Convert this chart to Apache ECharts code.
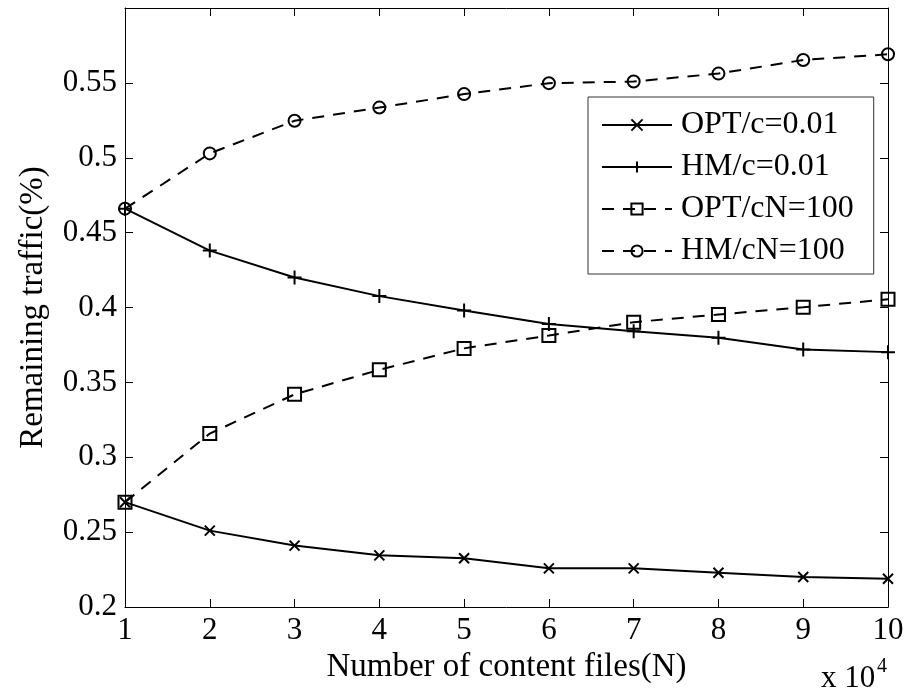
<!DOCTYPE html>
<html>
<head>
<meta charset="utf-8">
<script src="https://cdn.jsdelivr.net/npm/echarts@6/dist/echarts.min.js"></script>
<style>
html,body{margin:0;padding:0;background:#fff;}
#chart{width:907px;height:692px;}
</style>
</head>
<body>
<div id="chart"></div>
<script>
var xValues = [1, 2, 3, 4, 5, 6, 7, 8, 9, 10];
var seriesNames = ['OPT/c=0.01', 'HM/c=0.01', 'OPT/cN=100', 'HM/cN=100'];
var optC = [0.270, 0.251, 0.241, 0.2345, 0.2325, 0.2258, 0.2258, 0.2229, 0.2200, 0.2189];
var hmC = [0.466, 0.438, 0.420, 0.4076, 0.398, 0.389, 0.3842, 0.3798, 0.372, 0.3702];
var optCN = [0.270, 0.3158, 0.342, 0.3584, 0.3727, 0.3813, 0.3902, 0.3953, 0.4002, 0.4055];
var hmCN = [0.466, 0.5029, 0.5247, 0.5335, 0.5425, 0.5498, 0.5509, 0.5562, 0.5653, 0.5691];
var yTickLabels = ['0.2', '0.25', '0.3', '0.35', '0.4', '0.45', '0.5', '0.55'];

var FONT = '"Liberation Serif", "Times New Roman", serif';
var chart = echarts.init(document.getElementById('chart'), null, {renderer: 'canvas'});

function pairs(arr) { return xValues.map(function (x, i) { return [x, arr[i]]; }); }

var crossSym = 'path://M0,0L10,10M10,0L0,10';
var plusSym = 'path://M5,0L5,10M0,5L10,5';

function mkSeries(name, data, symbol, size, dashed) {
  return {
    name: name, type: 'line', data: pairs(data),
    color: '#000',
    symbol: symbol, symbolSize: size, showSymbol: true,
    lineStyle: {color: '#000', width: 2, type: dashed ? [12, 9] : 'solid'},
    itemStyle: {color: 'rgba(0,0,0,0)', borderColor: '#000', borderWidth: 2},
    emphasis: {disabled: true},
    animation: false
  };
}

var axisCommon = {
  axisLine: {show: true, lineStyle: {color: '#000', width: 1}},
  axisTick: {show: true, inside: true, length: 8, lineStyle: {color: '#000', width: 1}},
  splitLine: {show: false}
};

var option = {
  backgroundColor: '#fff',
  animation: false,
  grid: {left: 125, top: 8, right: 19, bottom: 85, containLabel: false},
  legend: {
    orient: 'vertical', left: 588, top: 97,
    data: seriesNames,
    backgroundColor: '#fff', borderColor: '#333', borderWidth: 1,
    padding: [12, 20, 7, 13],
    itemWidth: 70, itemHeight: 14, itemGap: 10,
    textStyle: {fontFamily: FONT, fontSize: 32, color: '#000', padding: [0, 0, 0, 4]},
    selectedMode: false
  },
  xAxis: [
    Object.assign({
      type: 'value', min: 1, max: 10, interval: 1, position: 'bottom',
      name: 'Number of content files(N)', nameLocation: 'middle', nameGap: 37,
      nameTextStyle: {fontFamily: FONT, fontSize: 33, color: '#000'},
      axisLabel: {fontFamily: FONT, fontSize: 31, color: '#000', margin: 8}
    }, axisCommon),
    Object.assign({
      type: 'value', min: 1, max: 10, interval: 1, position: 'top',
      axisLabel: {show: false}
    }, axisCommon)
  ],
  yAxis: [
    Object.assign({
      type: 'value', min: 0.2, max: 0.6, interval: 0.05, position: 'left',
      name: 'Remaining traffic(%)', nameLocation: 'middle', nameGap: 75,
      nameTextStyle: {fontFamily: FONT, fontSize: 33, color: '#000'},
      axisLabel: {
        fontFamily: FONT, fontSize: 31, color: '#000', margin: 8, showMaxLabel: false,
        formatter: function (v) {
          var i = Math.round((v - 0.2) / 0.05);
          return yTickLabels[i] !== undefined ? yTickLabels[i] : '';
        }
      }
    }, axisCommon),
    Object.assign({
      type: 'value', min: 0.2, max: 0.6, interval: 0.05, position: 'right',
      axisLabel: {show: false}
    }, axisCommon)
  ],
  graphic: [
    {type: 'text', left: 821, top: 663, silent: true,
     style: {text: 'x 10', fontFamily: FONT, fontSize: 31, fill: '#000'}},
    {type: 'text', left: 877, top: 657, silent: true,
     style: {text: '4', fontFamily: FONT, fontSize: 20, fill: '#000'}}
  ],
  series: [
    mkSeries(seriesNames[0], optC, crossSym, 10, false),
    mkSeries(seriesNames[1], hmC, plusSym, 14, false),
    mkSeries(seriesNames[2], optCN, 'rect', 13, true),
    mkSeries(seriesNames[3], hmCN, 'circle', 12, true)
  ]
};
chart.setOption(option);
</script>
</body>
</html>
